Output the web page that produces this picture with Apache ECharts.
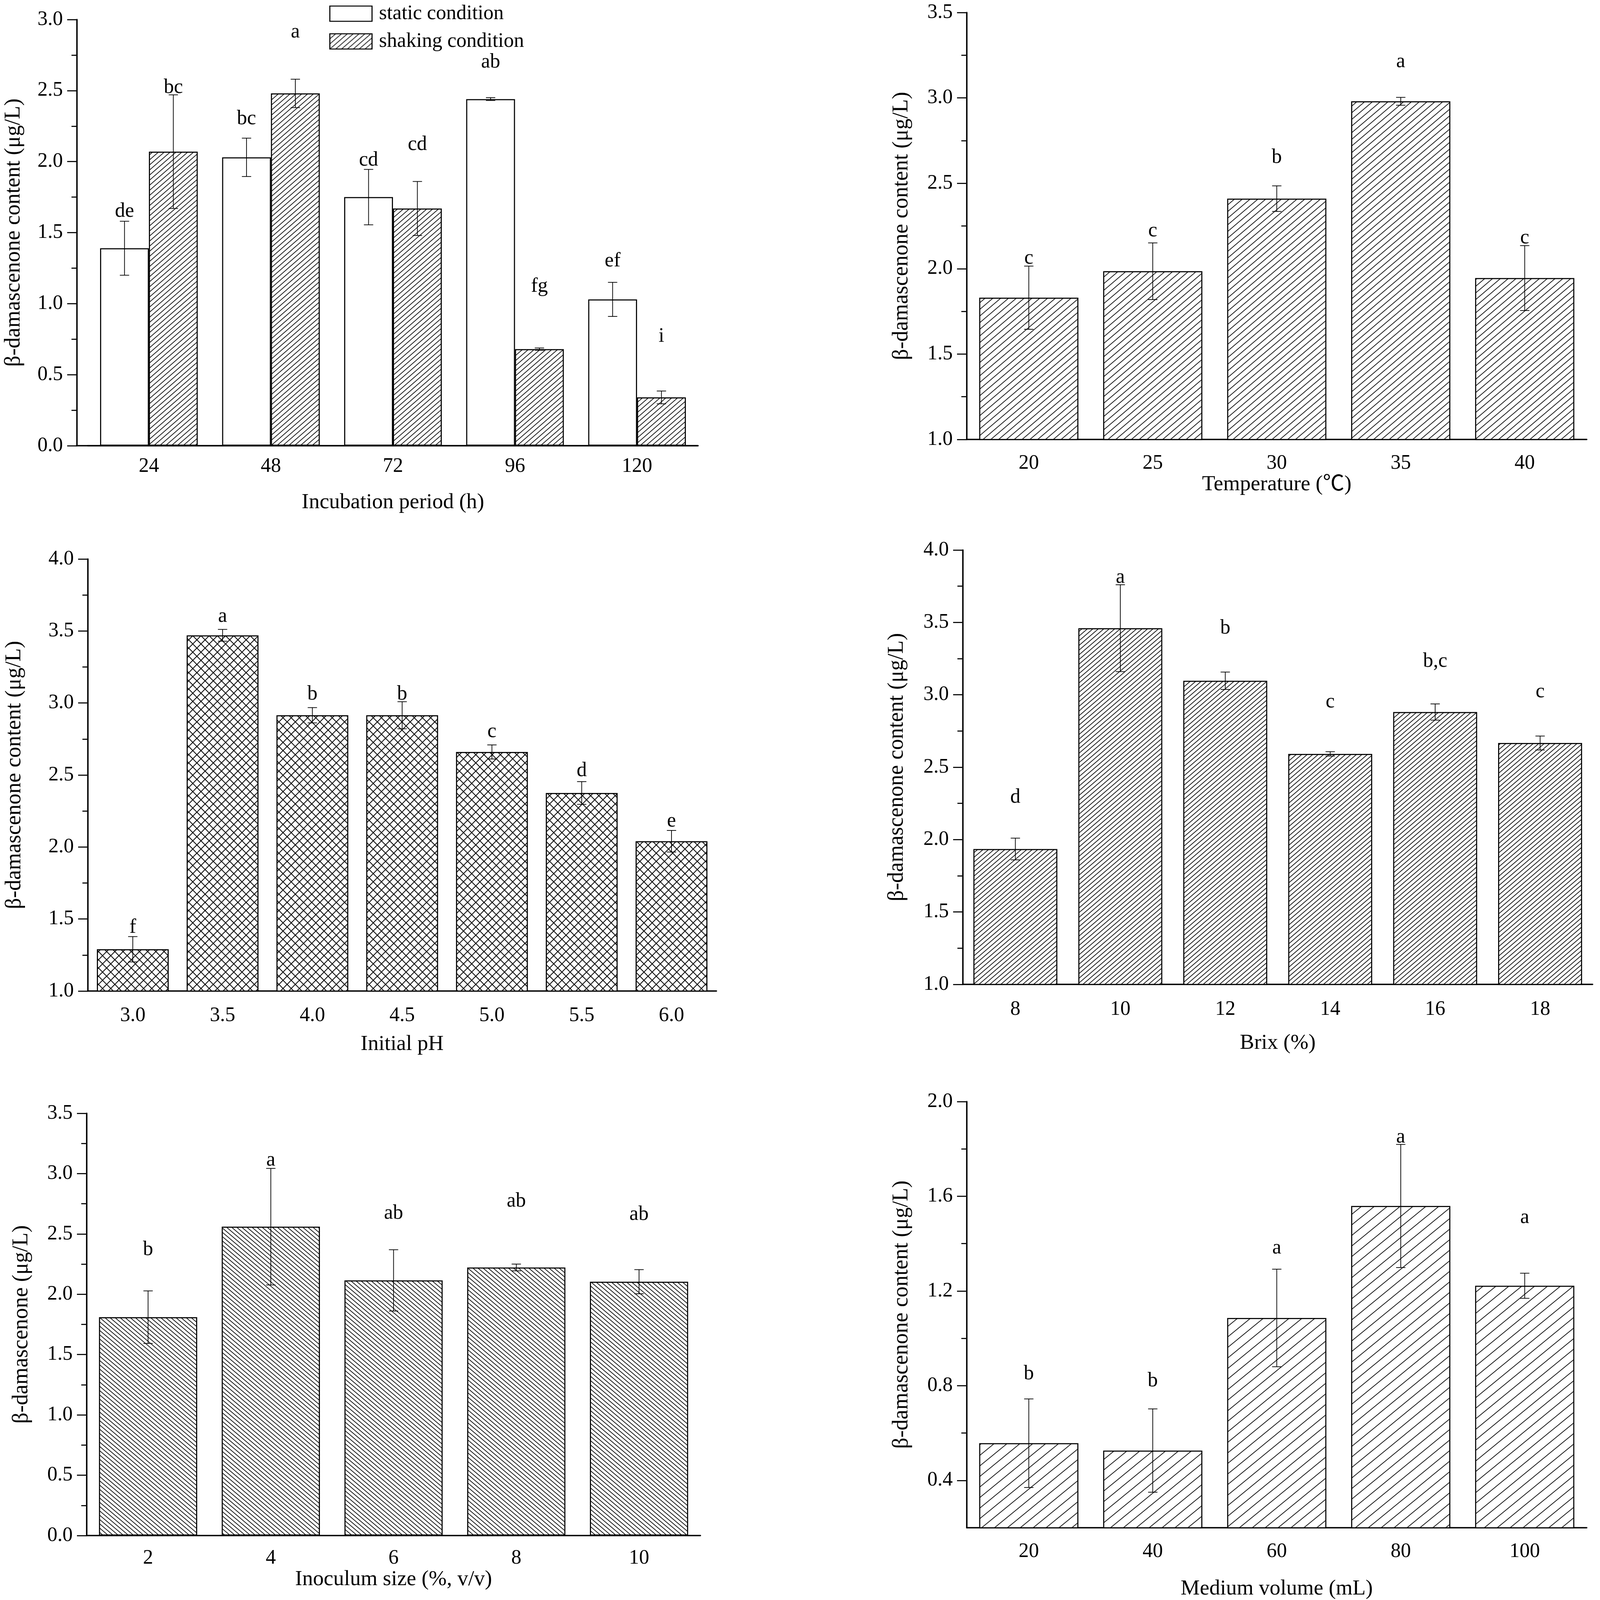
<!DOCTYPE html>
<html>
<head>
<meta charset="utf-8">
<title>beta-damascenone production</title>
<script src="https://cdn.jsdelivr.net/npm/echarts@6/dist/echarts.min.js"></script>
<style>
html, body { margin: 0; padding: 0; background: #fff; overflow: hidden; }
#chart { width: 100vw; height: 100vh; }
</style>
</head>
<body>
<div id="chart"></div>
<script>
// incubation period
const periodCats = ['24', '48', '72', '96', '120'];
const staticVals = [1.39, 2.03, 1.75, 2.44, 1.03];
const staticErr = [0.19, 0.135, 0.195, 0.01, 0.12];
const staticSig = ['de', 'bc', 'cd', 'ab', 'ef'];
const staticSigY = [1.65, 2.30, 2.01, 2.70, 1.30];
const shakingVals = [2.07, 2.48, 1.67, 0.68, 0.34];
const shakingErr = [0.40, 0.10, 0.19, 0.008, 0.045];
const shakingSig = ['bc', 'a', 'cd', 'fg', 'i'];
const shakingSigY = [2.52, 2.91, 2.12, 1.12, 0.77];

// temperature
const tempCats = ['20', '25', '30', '35', '40'];
const tempVals = [1.83, 1.985, 2.41, 2.98, 1.945];
const tempErr = [0.185, 0.166, 0.075, 0.023, 0.19];
const tempSig = ['c', 'c', 'b', 'a', 'c'];
const tempSigY = [2.06, 2.22, 2.65, 3.21, 2.18];

// initial pH
const phCats = ['3.0', '3.5', '4.0', '4.5', '5.0', '5.5', '6.0'];
const phVals = [1.29, 3.47, 2.915, 2.915, 2.66, 2.375, 2.04];
const phErr = [0.088, 0.041, 0.053, 0.094, 0.049, 0.079, 0.075];
const phSig = ['f', 'a', 'b', 'b', 'c', 'd', 'e'];
const phSigY = [1.44, 3.60, 3.06, 3.06, 2.80, 2.53, 2.18];

// brix
const brixCats = ['8', '10', '12', '14', '16', '18'];
const brixVals = [1.935, 3.46, 3.097, 2.592, 2.881, 2.667];
const brixErr = [0.075, 0.30, 0.06, 0.015, 0.056, 0.048];
const brixSig = ['d', 'a', 'b', 'c', 'b,c', 'c'];
const brixSigY = [2.29, 3.81, 3.46, 2.95, 3.23, 3.02];

// inoculum size
const inocCats = ['2', '4', '6', '8', '10'];
const inocVals = [1.81, 2.56, 2.115, 2.222, 2.104];
const inocErr = [0.218, 0.483, 0.254, 0.028, 0.10];
const inocSig = ['b', 'a', 'ab', 'ab', 'ab'];
const inocSigY = [2.37, 3.11, 2.67, 2.77, 2.66];

// medium volume
const volCats = ['20', '40', '60', '80', '100'];
const volVals = [0.557, 0.526, 1.086, 1.559, 1.222];
const volErr = [0.187, 0.176, 0.206, 0.26, 0.053];
const volSig = ['b', 'b', 'a', 'a', 'a'];
const volSigY = [0.85, 0.82, 1.38, 1.85, 1.51];
const volTicks = [0.4, 0.8, 1.2, 1.6, 2.0];
const volMinorTicks = [0.6, 1.0, 1.4, 1.8];

const FONT = '"Liberation Serif", "Times New Roman", "Noto Sans CJK SC", serif';
const BLACK = '#000';

const dom = document.getElementById('chart');
// layout was measured on a 4317 x 4627 page; scale it to the real size
const SX = (dom.clientWidth || 4317) / 4317;
const SY = (dom.clientHeight || 4627) / 4627;
const S = Math.sqrt(SX * SY);
const X = v => Math.round(v * SX);
const Y = v => Math.round(v * SY);
const F = v => Math.round(v * S);

// hatch tile: lines repeat every w px horizontally and h px vertically
function hatch(w, h, dirs, lw) {
    w = Math.max(4, F(w));
    h = Math.max(4, F(h));
    const c = document.createElement('canvas');
    c.width = w;
    c.height = h;
    const ctx = c.getContext('2d');
    ctx.fillStyle = '#fff';
    ctx.fillRect(0, 0, w, h);
    ctx.strokeStyle = '#111';
    ctx.lineWidth = lw * S;
    dirs.forEach(d => {
        for (let k = -2; k <= 2; k++) {
            ctx.beginPath();
            if (d === '/') {
                ctx.moveTo(k * w - w, 2 * h);
                ctx.lineTo(k * w + 2 * w, -h);
            } else {
                ctx.moveTo(k * w - w, -h);
                ctx.lineTo(k * w + 2 * w, 2 * h);
            }
            ctx.stroke();
        }
    });
    return { image: c, repeat: 'repeat' };
}

const grids = [], xAxes = [], yAxes = [], series = [];

function errSeries(xi, yi, vals, errs, sig, sigY, shift) {
    return {
        type: 'custom',
        xAxisIndex: xi,
        yAxisIndex: yi,
        z: 5,
        silent: true,
        clip: false,
        data: vals.map((v, i) => [i, v, errs[i], sigY[i]]),
        renderItem: (params, api) => {
            const i = api.value(0);
            const dx = api.size([1, 0])[0] * shift;
            const top = api.coord([i, api.value(1) + api.value(2)]);
            const bot = api.coord([i, api.value(1) - api.value(2)]);
            const lab = api.coord([i, api.value(3)]);
            const x = top[0] + dx;
            const cap = 13 * S;
            const st = { stroke: BLACK, lineWidth: 2 * S };
            return {
                type: 'group',
                children: [
                    { type: 'line', shape: { x1: x, y1: top[1], x2: x, y2: bot[1] }, style: st },
                    { type: 'line', shape: { x1: x - cap, y1: top[1], x2: x + cap, y2: top[1] }, style: st },
                    { type: 'line', shape: { x1: x - cap, y1: bot[1], x2: x + cap, y2: bot[1] }, style: st },
                    {
                        type: 'text', x: x, y: lab[1],
                        style: {
                            text: sig[params.dataIndex], fill: BLACK, fontSize: F(57), fontFamily: FONT,
                            align: 'center', verticalAlign: 'middle'
                        }
                    }
                ]
            };
        }
    };
}

function addPanel(p) {
    const gi = grids.length;
    grids.push({ left: X(p.left), top: Y(p.top), width: X(p.width), height: Y(p.height), containLabel: false });
    const xi = xAxes.length;
    xAxes.push({
        type: 'category', gridIndex: gi, data: p.cats, position: 'bottom',
        name: p.xName, nameLocation: 'middle', nameGap: Y(p.xNameGap),
        nameTextStyle: { fontSize: F(60), color: BLACK, fontFamily: FONT },
        axisLine: { lineStyle: { color: BLACK, width: 4 * S } },
        axisTick: { alignWithLabel: true, length: F(27), lineStyle: { color: BLACK, width: 3 * S } },
        axisLabel: { margin: Y(p.xLabelMargin), fontSize: F(57), color: BLACK, fontFamily: FONT },
        splitLine: { show: false }
    });
    // short ticks on the category boundaries
    xAxes.push({
        type: 'category', gridIndex: gi, data: p.cats, position: 'bottom',
        axisLine: { show: false },
        axisTick: { length: F(15), lineStyle: { color: BLACK, width: 3 * S } },
        axisLabel: { show: false },
        splitLine: { show: false }
    });
    const yi = yAxes.length;
    const y = {
        type: 'value', gridIndex: gi, position: 'left', offset: X(p.yOffset || 0),
        min: p.yMin, max: p.yMax, interval: p.interval,
        name: p.yName, nameLocation: 'middle', nameGap: X(p.yNameGap),
        nameTextStyle: { fontSize: F(61), color: BLACK, fontFamily: FONT },
        axisLine: { show: true, lineStyle: { color: BLACK, width: 4 * S } },
        axisTick: { show: true, length: F(27), lineStyle: { color: BLACK, width: 3 * S } },
        minorTick: { show: !p.customTicks, splitNumber: 2, length: F(15), lineStyle: { color: BLACK, width: 3 * S } },
        axisLabel: { margin: X(38), fontSize: F(57), color: BLACK, fontFamily: FONT, formatter: v => v.toFixed(1) },
        splitLine: { show: false },
        minorSplitLine: { show: false }
    };
    if (p.customTicks) {
        y.axisLabel.customValues = p.customTicks;
        y.axisTick.customValues = p.customTicks;
    }
    yAxes.push(y);
    if (p.customMinor) {
        yAxes.push({
            type: 'value', gridIndex: gi, position: 'left',
            min: p.yMin, max: p.yMax, interval: p.interval,
            axisLine: { show: false },
            axisTick: { show: true, length: F(15), customValues: p.customMinor, lineStyle: { color: BLACK, width: 3 * S } },
            axisLabel: { show: false },
            splitLine: { show: false }
        });
    }
    p.bars.forEach(b => {
        series.push({
            type: 'bar', name: b.name, xAxisIndex: xi, yAxisIndex: yi,
            data: b.vals, barGap: '0%', barCategoryGap: '20%', silent: true,
            itemStyle: { color: b.fill, borderColor: BLACK, borderWidth: 3 * S }
        });
    });
    p.bars.forEach(b => {
        series.push(errSeries(xi, yi, b.vals, b.errs, b.sig, b.sigY, b.shift || 0));
    });
    return gi;
}

const Y_NAME = 'β-damascenone content (μg/L)';

addPanel({
    left: 237, top: 57, width: 1646, height: 1232, yOffset: 30,
    cats: periodCats, yMin: 0, yMax: 3, interval: 0.5,
    xName: 'Incubation period (h)', xNameGap: 133, xLabelMargin: 31,
    yName: Y_NAME, yNameGap: 141,
    bars: [
        { name: 'static condition', vals: staticVals, errs: staticErr, sig: staticSig, sigY: staticSigY, shift: -0.2, fill: '#fff' },
        { name: 'shaking condition', vals: shakingVals, errs: shakingErr, sig: shakingSig, sigY: shakingSigY, shift: 0.2, fill: hatch(16, 14, ['/'], 2) }
    ]
});

// x axis line of the first panel reaches the shifted y axis
grids.push({ left: X(207), top: Y(57), width: X(1676), height: Y(1232), containLabel: false });
xAxes.push({
    type: 'value', gridIndex: grids.length - 1, min: 0, max: 1, position: 'bottom',
    axisLine: { show: true, lineStyle: { color: BLACK, width: 4 * S } },
    axisTick: { show: false }, axisLabel: { show: false }, splitLine: { show: false }
});
yAxes.push({ type: 'value', gridIndex: grids.length - 1, show: false, min: 0, max: 1 });

addPanel({
    left: 2609, top: 36, width: 1673, height: 1235,
    cats: tempCats, yMin: 1, yMax: 3.5, interval: 0.5,
    xName: 'Temperature (℃)', xNameGap: 99, xLabelMargin: 39,
    yName: Y_NAME, yNameGap: 147,
    bars: [{ vals: tempVals, errs: tempErr, sig: tempSig, sigY: tempSigY, fill: hatch(22, 19, ['/'], 2) }]
});

addPanel({
    left: 237, top: 1617, width: 1696, height: 1249,
    cats: phCats, yMin: 1, yMax: 4, interval: 0.5,
    xName: 'Initial pH', xNameGap: 123, xLabelMargin: 42,
    yName: Y_NAME, yNameGap: 169,
    bars: [{ vals: phVals, errs: phErr, sig: phSig, sigY: phSigY, fill: hatch(23, 23, ['/', '\\'], 2.5) }]
});

addPanel({
    left: 2598, top: 1591, width: 1699, height: 1256,
    cats: brixCats, yMin: 1, yMax: 4, interval: 0.5,
    xName: 'Brix (%)', xNameGap: 139, xLabelMargin: 43,
    yName: Y_NAME, yNameGap: 149,
    bars: [{ vals: brixVals, errs: brixErr, sig: brixSig, sigY: brixSigY, fill: hatch(15, 13, ['/'], 2) }]
});

addPanel({
    left: 234, top: 3220, width: 1656, height: 1221,
    cats: inocCats, yMin: 0, yMax: 3.5, interval: 0.5,
    xName: 'Inoculum size (%, v/v)', xNameGap: 96, xLabelMargin: 36,
    yName: 'β-damascenone (μg/L)', yNameGap: 147,
    bars: [{ vals: inocVals, errs: inocErr, sig: inocSig, sigY: inocSigY, fill: hatch(14, 12, ['\\'], 2) }]
});

addPanel({
    left: 2609, top: 3186, width: 1673, height: 1233,
    cats: volCats, yMin: 0.2, yMax: 2.0, interval: 0.2,
    customTicks: volTicks, customMinor: volMinorTicks,
    xName: 'Medium volume (mL)', xNameGap: 146, xLabelMargin: 40,
    yName: Y_NAME, yNameGap: 147,
    bars: [{ vals: volVals, errs: volErr, sig: volSig, sigY: volSigY, fill: hatch(36, 29, ['/'], 2) }]
});

const chart = echarts.init(dom, null, { renderer: 'canvas' });
chart.setOption({
    backgroundColor: '#fff',
    animation: false,
    legend: {
        data: ['static condition', 'shaking condition'],
        orient: 'vertical', left: X(889), top: Y(10), padding: 0,
        itemWidth: X(114), itemHeight: Y(44), itemGap: Y(22), icon: 'rect',
        itemStyle: { borderColor: BLACK, borderWidth: 3 * S },
        textStyle: { fontSize: F(57), color: BLACK, fontFamily: FONT, padding: [0, 0, 0, X(14)] },
        selectedMode: false
    },
    grid: grids,
    xAxis: xAxes,
    yAxis: yAxes,
    series: series
});
</script>
</body>
</html>
